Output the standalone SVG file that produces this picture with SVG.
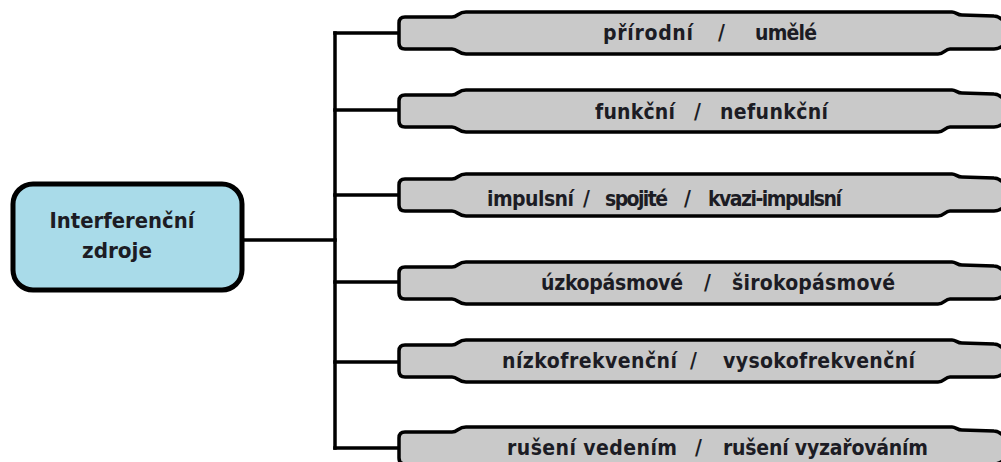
<svg xmlns="http://www.w3.org/2000/svg" xmlns:xlink="http://www.w3.org/1999/xlink" width="1001" height="462" viewBox="0 0 1001 462">
  <style>
    .wire { fill: none; stroke: #000; stroke-width: 3.5; stroke-linejoin: miter; stroke-linecap: square; }
    .bar { fill: #c9c9c9; stroke: #000; stroke-width: 3.5; stroke-linejoin: round; }
    .root { fill: #a9dbe9; stroke: #000; stroke-width: 5; }
    .lbl { font-family: "DejaVu Sans Condensed", "DejaVu Sans", sans-serif; font-stretch: condensed; font-weight: bold; font-size: 21px; fill: #1c1c24; white-space: pre; }
    .mid { text-anchor: middle; }
  </style>
  <defs>
    <!-- banner-shaped category bar, centred on y = 0 -->
    <path id="bar" d="M 399,-10 Q 399,-16 405,-16 L 452,-16 C 458,-16 458,-21 466,-21 L 952,-21 C 956,-21 957,-18 962,-18 L 994,-17 C 999,-17 1001,-14 1004,-12 L 1004,12 C 1001,14 999,16 994,16 L 950,16 C 945,16 944,21 938,21 L 466,21 C 458,21 458,16 452,16 L 405,16 Q 399,16 399,10 Z"/>
  </defs>

  <g id="connectors">
    <path class="wire" d="M 243,240 H 335"/>
    <path class="wire" d="M 335,33 V 448"/>
    <path class="wire" d="M 335,33 H 399"/>
    <path class="wire" d="M 335,110 H 399"/>
    <path class="wire" d="M 335,195 H 399"/>
    <path class="wire" d="M 335,282 H 399"/>
    <path class="wire" d="M 335,362 H 399"/>
    <path class="wire" d="M 335,448 H 399"/>
  </g>

  <g id="root">
    <rect class="root" x="13" y="184" width="229" height="106" rx="20" ry="20"/>
    <text class="lbl mid" x="122" y="228" textLength="145" lengthAdjust="spacingAndGlyphs">Interferenční</text>
    <text class="lbl mid" x="117" y="258" textLength="70" lengthAdjust="spacingAndGlyphs">zdroje</text>
  </g>

  <g id="origin">
    <use xlink:href="#bar" class="bar" y="33"/>
    <text class="lbl" y="40" lengthAdjust="spacingAndGlyphs"><tspan x="603" textLength="90">přírodní</tspan><tspan>  </tspan><tspan x="718">/</tspan><tspan>  </tspan><tspan x="755" textLength="62">umělé</tspan></text>
  </g>

  <g id="function">
    <use xlink:href="#bar" class="bar" y="111"/>
    <text class="lbl" y="119" lengthAdjust="spacingAndGlyphs"><tspan x="595" textLength="80">funkční</tspan><tspan>  </tspan><tspan x="694">/</tspan><tspan>  </tspan><tspan x="720" textLength="108">nefunkční</tspan></text>
  </g>

  <g id="time-course">
    <use xlink:href="#bar" class="bar" y="195"/>
    <text class="lbl" y="206" lengthAdjust="spacingAndGlyphs"><tspan x="487" textLength="87">impulsní</tspan><tspan>  </tspan><tspan x="583">/</tspan><tspan>  </tspan><tspan x="605" textLength="63">spojité</tspan><tspan>  </tspan><tspan x="684">/</tspan><tspan>  </tspan><tspan x="708" textLength="134">kvazi-impulsní</tspan></text>
  </g>

  <g id="bandwidth">
    <use xlink:href="#bar" class="bar" y="283"/>
    <text class="lbl" y="290" lengthAdjust="spacingAndGlyphs"><tspan x="541" textLength="142">úzkopásmové</tspan><tspan>  </tspan><tspan x="704">/</tspan><tspan>  </tspan><tspan x="732" textLength="163">širokopásmové</tspan></text>
  </g>

  <g id="frequency">
    <use xlink:href="#bar" class="bar" y="361"/>
    <text class="lbl" y="368" lengthAdjust="spacingAndGlyphs"><tspan x="502" textLength="175">nízkofrekvenční</tspan><tspan>  </tspan><tspan x="690">/</tspan><tspan>  </tspan><tspan x="723" textLength="192">vysokofrekvenční</tspan></text>
  </g>

  <g id="coupling">
    <use xlink:href="#bar" class="bar" y="448"/>
    <text class="lbl" y="455" lengthAdjust="spacingAndGlyphs"><tspan x="507" textLength="170">rušení vedením</tspan><tspan>  </tspan><tspan x="695">/</tspan><tspan>  </tspan><tspan x="723" textLength="205">rušení vyzařováním</tspan></text>
  </g>
</svg>
